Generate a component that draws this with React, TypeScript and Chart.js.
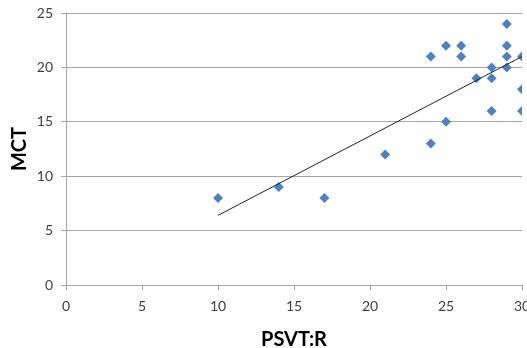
import React, { useEffect, useRef } from 'react';
import { Chart, registerables } from 'chart.js';

Chart.register(...registerables);

const psvtr = [10, 14, 17, 21, 24, 24, 25, 25, 26, 26, 27, 28, 28, 28, 29, 29, 29, 29, 30, 30, 30];
const mct = [8, 9, 8, 12, 13, 21, 22, 15, 22, 21, 19, 20, 19, 16, 24, 22, 21, 20, 21, 18, 16];
const trendX = [10, 30];
const trendY = [6.4, 21.0];
const xRange = [0, 30];
const yRange = [0, 25];
const tickStep = 5;

const FONT = 'Lato, "Open Sans", sans-serif';
const GRID = '#a6a6a6';
const POINT = '#4F81BD';

export default function App() {
  const ref = useRef<HTMLCanvasElement | null>(null);

  useEffect(() => {
    if (!ref.current) return;
    const chart = new Chart(ref.current, {
      type: 'scatter',
      data: {
        datasets: [
          {
            label: 'Trend',
            data: trendX.map((x, i) => ({ x, y: trendY[i] })),
            showLine: true,
            borderColor: '#222222',
            borderWidth: 1,
            pointRadius: 0,
            pointHoverRadius: 0,
            fill: false,
          },
          {
            label: 'Data',
            data: psvtr.map((x, i) => ({ x, y: mct[i] })),
            pointStyle: 'rectRot',
            pointRadius: 5,
            pointHoverRadius: 5,
            backgroundColor: POINT,
            borderColor: POINT,
            borderWidth: 0,
          },
        ],
      },
      options: {
        animation: false,
        responsive: false,
        maintainAspectRatio: false,
        layout: { padding: { left: 0, right: 18, top: 13, bottom: 0 } },
        plugins: { legend: { display: false }, tooltip: { enabled: false } },
        scales: {
          x: {
            type: 'linear',
            min: xRange[0],
            max: xRange[1],
            ticks: { stepSize: tickStep, color: '#404040', font: { family: FONT, size: 14 }, padding: 8, maxRotation: 0 },
            grid: { drawOnChartArea: false, drawTicks: true, tickLength: 5, color: GRID },
            border: { color: GRID },
            title: {
              display: true,
              text: 'PSVT:R',
              color: '#000',
              font: { family: FONT, size: 20, weight: 'bold', lineHeight: 0.8 },
              padding: 0,
            },
            afterFit: (s: any) => {
              s.height = 63;
              s.paddingLeft = 0;
              s.paddingRight = 0;
            },
          },
          y: {
            type: 'linear',
            min: yRange[0],
            max: yRange[1],
            ticks: { stepSize: tickStep, color: '#404040', font: { family: FONT, size: 14 }, padding: 8 },
            grid: { drawTicks: true, tickLength: 5, color: GRID },
            border: { color: GRID },
            title: {
              display: true,
              text: 'MCT',
              color: '#000',
              font: { family: FONT, size: 20, weight: 'bold', lineHeight: 1 },
              padding: { top: 10, bottom: 0 },
            },
            afterFit: (s: any) => {
              s.width = 66;
              s.paddingTop = 0;
              s.paddingBottom = 0;
            },
          },
        },
      },
    });
    return () => chart.destroy();
  }, []);

  return (
    <div style={{ position: 'fixed', left: 0, top: 0, width: 527, height: 348, overflow: 'hidden', background: '#fff' }}>
      <canvas ref={ref} width={540} height={348} style={{ width: 540, height: 348, display: 'block' }} />
    </div>
  );
}
